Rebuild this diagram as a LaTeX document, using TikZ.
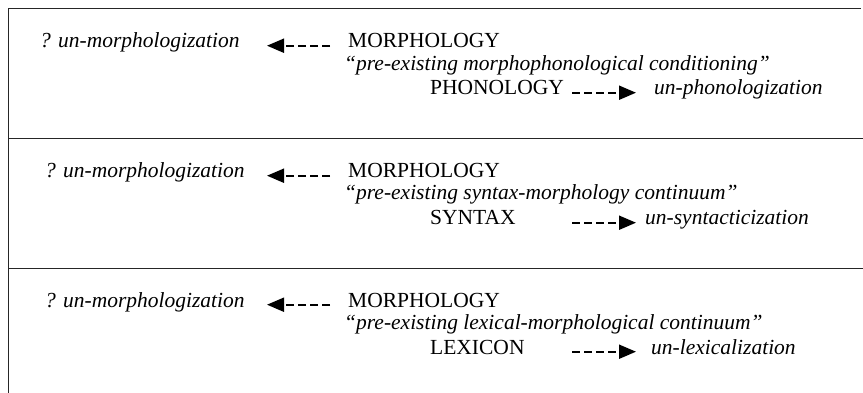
\documentclass[tikz,border=0pt]{standalone}
\usepackage{fontspec}
\setmainfont{Liberation Serif}
\usetikzlibrary{arrows.meta}
\begin{document}
\begin{tikzpicture}[x=1pt,y=-1pt,
  lbl/.style={anchor=base west, inner sep=0pt, font=\fontsize{21.5}{26}\selectfont},
  ital/.style={lbl, font=\fontsize{21.5}{26}\selectfont\itshape},
  rule/.style={line width=0.9pt, draw=black!85},
  darr/.style={line width=2pt, dash pattern=on 8pt off 4pt,
               -{Triangle[length=17pt,width=14pt]}}]
\useasboundingbox (0,0) rectangle (863,393);

% frame: left edge, top edge and the two dividers
\draw[rule] (8,393) -- (8,8) -- (861,8);
\draw[rule] (8,138) -- (863,138);
\draw[rule] (8,268) -- (863,268);

% x positions of the dashed arrows
\coordinate (ltail) at (330,0);
\coordinate (lhead) at (267,0);
\coordinate (rtail) at (572,0);
\coordinate (rhead) at (636,0);

% panel 1
\node[ital] (u1) at (40,48) {? un-morphologization};
\node[lbl]  (m1) at (348,48) {MORPHOLOGY};
\node[ital] (q1) at (344,71) {“pre-existing morphophonological conditioning”};
\node[lbl]  (s1) at (430,95) {PHONOLOGY};
\node[ital] (t1) at (654,95) {un-phonologization};
\draw[darr] (m1.mid west -| ltail) -- (u1.mid east -| lhead);
\draw[darr] (s1.mid east -| rtail) -- (t1.mid west -| rhead);

% panel 2
\node[ital] (u2) at (45,178) {? un-morphologization};
\node[lbl]  (m2) at (348,178) {MORPHOLOGY};
\node[ital] (q2) at (344,200) {“pre-existing syntax-morphology continuum”};
\node[lbl]  (s2) at (430,225) {SYNTAX};
\node[ital] (t2) at (645,225) {un-syntacticization};
\draw[darr] (m2.mid west -| ltail) -- (u2.mid east -| lhead);
\draw[darr] (s2.mid east -| rtail) -- (t2.mid west -| rhead);

% panel 3
\node[ital] (u3) at (45,307) {? un-morphologization};
\node[lbl]  (m3) at (348,307) {MORPHOLOGY};
\node[ital] (q3) at (344,329) {“pre-existing lexical-morphological continuum”};
\node[lbl]  (s3) at (430,354) {LEXICON};
\node[ital] (t3) at (651,354) {un-lexicalization};
\draw[darr] (m3.mid west -| ltail) -- (u3.mid east -| lhead);
\draw[darr] (s3.mid east -| rtail) -- (t3.mid west -| rhead);
\end{tikzpicture}
\end{document}
